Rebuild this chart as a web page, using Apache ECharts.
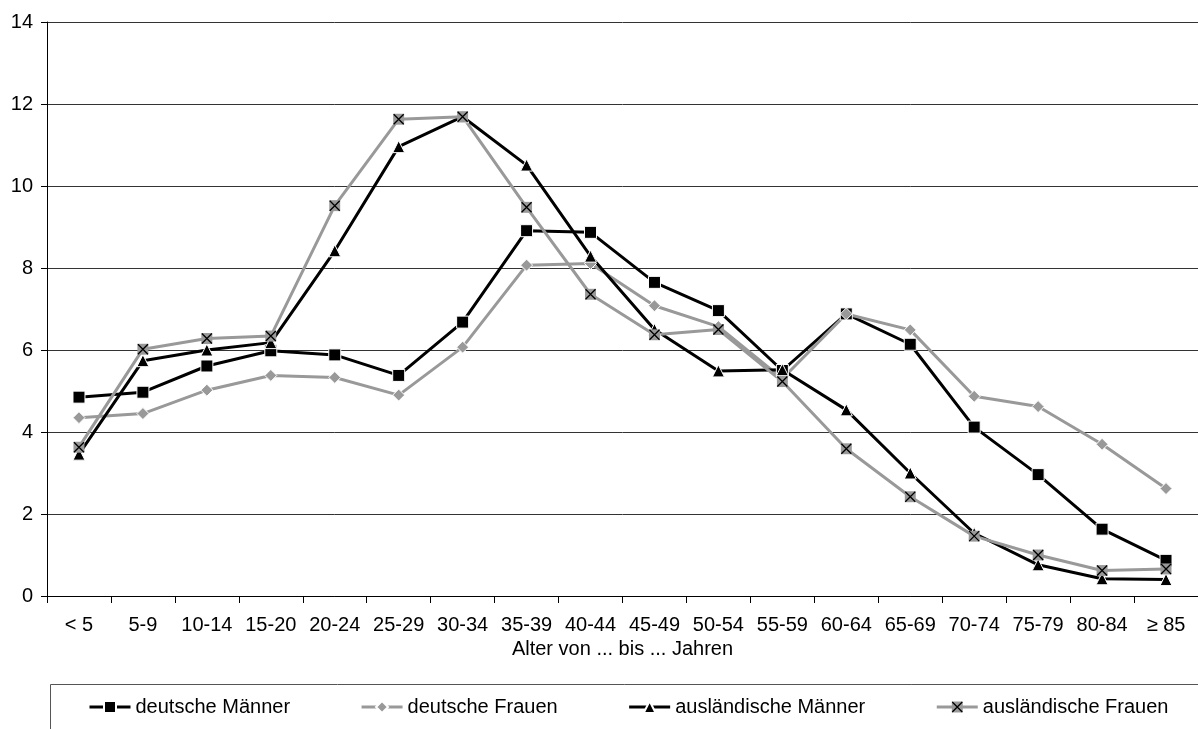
<!DOCTYPE html>
<html>
<head>
<meta charset="utf-8">
<script src="https://cdn.jsdelivr.net/npm/echarts@6/dist/echarts.min.js"></script>
<style>
html,body{margin:0;padding:0;background:#fff;}
#chart{width:1198px;height:729px;}
</style>
</head>
<body>
<div id="chart"></div>
<script>
var categories = ['< 5','5-9','10-14','15-20','20-24','25-29','30-34','35-39','40-44','45-49','50-54','55-59','60-64','65-69','70-74','75-79','80-84','\u2265 85'];
var seriesNames = ['deutsche M\u00e4nner','deutsche Frauen','ausl\u00e4ndische M\u00e4nner','ausl\u00e4ndische Frauen'];
var deutscheMaenner = [4.85, 4.97, 5.61, 5.98, 5.88, 5.38, 6.68, 8.91, 8.87, 7.65, 6.96, 5.50, 6.88, 6.14, 4.12, 2.96, 1.63, 0.87];
var deutscheFrauen = [4.35, 4.45, 5.02, 5.38, 5.33, 4.90, 6.07, 8.07, 8.11, 7.08, 6.57, 5.30, 6.88, 6.49, 4.87, 4.62, 3.70, 2.62];
var auslMaenner = [3.46, 5.74, 6.00, 6.18, 8.42, 10.96, 11.69, 10.51, 8.29, 6.50, 5.49, 5.52, 4.54, 3.00, 1.53, 0.76, 0.42, 0.40];
var auslFrauen = [3.63, 6.02, 6.28, 6.34, 9.52, 11.63, 11.69, 9.48, 7.36, 6.37, 6.50, 5.23, 3.59, 2.42, 1.46, 1.00, 0.62, 0.66];
var yTicks = {min: 0, max: 14, interval: 2};
var xAxisName = 'Alter von ... bis ... Jahren';

var FONT = "'Liberation Sans', Arial, sans-serif";
var xSvg = "<svg xmlns='http://www.w3.org/2000/svg' width='24' height='24' viewBox='0 0 24 24'><rect x='1' y='1' width='22' height='22' fill='#999999'/><path d='M2 2L22 22M22 2L2 22' stroke='#000' stroke-width='2.6'/></svg>";
var xSymbol = 'image://data:image/svg+xml;charset=utf-8,' + encodeURIComponent(xSvg);

var chart = echarts.init(document.getElementById('chart'), null, {renderer: 'canvas'});
function mk(name, data, color, symbol, size) {
  return {
    name: name, type: 'line', data: data,
    symbol: symbol, symbolSize: size,
    showAllSymbol: true,
    lineStyle: {color: color, width: 3},
    itemStyle: {color: color, borderColor: '#fff', borderWidth: 1},
    emphasis: {disabled: true},
    animation: false
  };
}
var option = {
  backgroundColor: '#fff',
  animation: false,
  textStyle: {fontFamily: FONT},
  grid: {left: 47, right: 0, top: 22, bottom: 133, containLabel: false},
  graphic: [{
    type: 'rect', silent: true, z: -1,
    shape: {x: 50.5, y: 684.5, width: 1300, height: 200},
    style: {fill: 'none', stroke: '#555', lineWidth: 1}
  }],
  legend: {
    left: 88, top: 697, width: 1200,
    padding: 0,
    itemGap: 70, itemWidth: 41, itemHeight: 15,
    lineStyle: {width: 3},
    textStyle: {fontSize: 20, color: '#000', fontFamily: FONT},
    data: seriesNames
  },
  xAxis: {
    type: 'category', data: categories, boundaryGap: true,
    name: xAxisName, nameLocation: 'middle', nameGap: 42,
    nameTextStyle: {fontSize: 20, color: '#000', fontFamily: FONT},
    axisLine: {lineStyle: {color: '#000', width: 1}},
    axisTick: {show: true, length: 7, alignWithLabel: false, interval: 0, lineStyle: {color: '#000'}},
    axisLabel: {interval: 0, fontSize: 20, color: '#000', margin: 19, fontFamily: FONT},
    splitLine: {show: false}
  },
  yAxis: {
    type: 'value', min: yTicks.min, max: yTicks.max, interval: yTicks.interval,
    axisLine: {show: true, lineStyle: {color: '#000', width: 1}},
    axisTick: {show: true, length: 6, lineStyle: {color: '#000'}},
    axisLabel: {fontSize: 20, color: '#000', margin: 14, fontFamily: FONT},
    splitLine: {show: true, lineStyle: {color: '#333', width: 1}}
  },
  series: [
    mk(seriesNames[0], deutscheMaenner, '#000000', 'rect', 12),
    mk(seriesNames[1], deutscheFrauen, '#999999', 'diamond', 12),
    mk(seriesNames[2], auslMaenner, '#000000', 'triangle', 12),
    mk(seriesNames[3], auslFrauen, '#999999', xSymbol, 12)
  ]
};
chart.setOption(option);
</script>
</body>
</html>
